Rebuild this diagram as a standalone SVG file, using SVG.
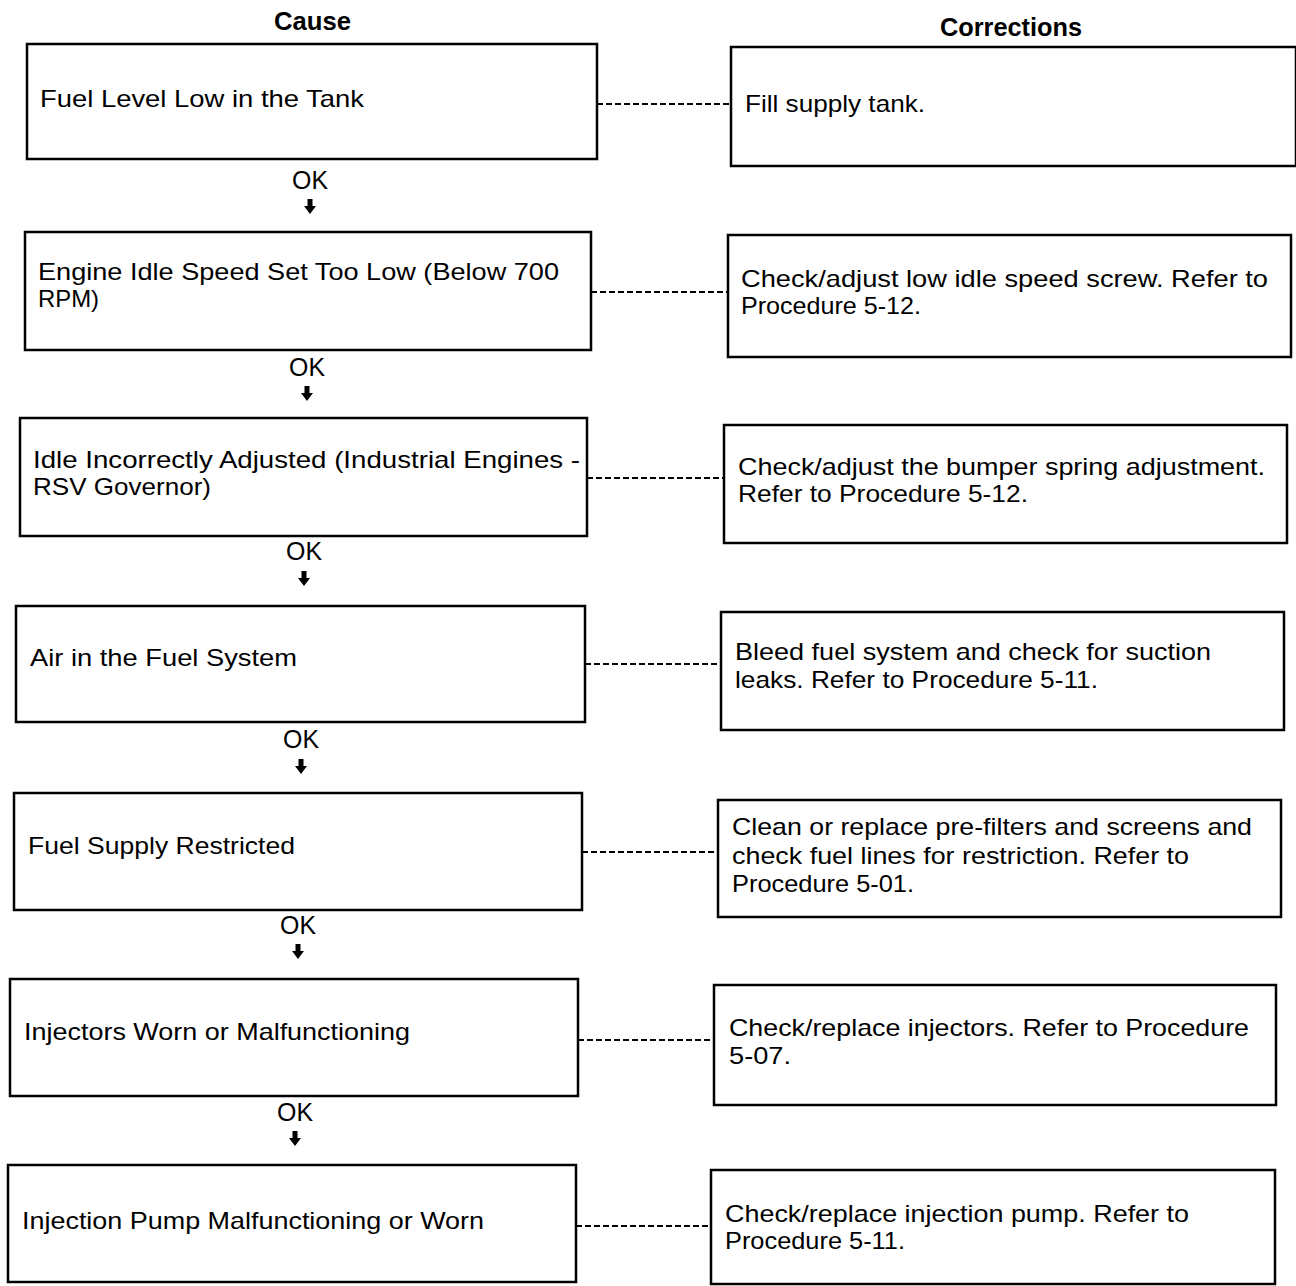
<svg xmlns="http://www.w3.org/2000/svg" width="1296" height="1286" viewBox="0 0 1296 1286">
<style>
.box{fill:#fff;stroke:#000;stroke-width:2.5}
.t{font-family:"Liberation Sans",Arial,sans-serif;font-size:24px;fill:#000}
.h{font-family:"Liberation Sans",Arial,sans-serif;font-size:25px;font-weight:bold;fill:#000}
.ok{font-family:"Liberation Sans",Arial,sans-serif;font-size:25px;fill:#000}
.dash{stroke:#000;stroke-width:2;stroke-dasharray:6 3;fill:none}
.arr{fill:#000}
</style>
<defs>
<path id="ar" d="M-2.5,-8 L2.5,-8 L2.5,-1 L6,-1 L0,7 L-6,-1 L-2.5,-1 Z"/>
</defs>
<rect width="1296" height="1286" fill="#fff"/>
<text class="h" x="274" y="30" textLength="77" lengthAdjust="spacingAndGlyphs">Cause</text>
<text class="h" x="940" y="36" textLength="142" lengthAdjust="spacingAndGlyphs">Corrections</text>

<g id="connectors">
<line class="dash" x1="597" y1="104" x2="731" y2="104"/>
<line class="dash" x1="591" y1="292" x2="728" y2="292"/>
<line class="dash" x1="587" y1="478" x2="724" y2="478"/>
<line class="dash" x1="585" y1="664" x2="721" y2="664"/>
<line class="dash" x1="582" y1="852" x2="718" y2="852"/>
<line class="dash" x1="578" y1="1040" x2="714" y2="1040"/>
<line class="dash" x1="576" y1="1226" x2="711" y2="1226"/>
<g class="arr">
<use href="#ar" x="310" y="207"/>
<use href="#ar" x="307" y="394"/>
<use href="#ar" x="304" y="579"/>
<use href="#ar" x="301" y="767"/>
<use href="#ar" x="298" y="952"/>
<use href="#ar" x="295" y="1139"/>
</g>
<text class="ok" x="292" y="189" textLength="36" lengthAdjust="spacingAndGlyphs">OK</text>
<text class="ok" x="289" y="376" textLength="36" lengthAdjust="spacingAndGlyphs">OK</text>
<text class="ok" x="286" y="560" textLength="36" lengthAdjust="spacingAndGlyphs">OK</text>
<text class="ok" x="283" y="748" textLength="36" lengthAdjust="spacingAndGlyphs">OK</text>
<text class="ok" x="280" y="934" textLength="36" lengthAdjust="spacingAndGlyphs">OK</text>
<text class="ok" x="277" y="1121" textLength="36" lengthAdjust="spacingAndGlyphs">OK</text>
</g>

<g id="cause1"><rect class="box" x="27" y="44" width="570" height="115"/>
<text class="t" x="40" y="107" textLength="324" lengthAdjust="spacingAndGlyphs">Fuel Level Low in the Tank</text></g>
<g id="fix1"><rect class="box" x="731" y="47" width="565" height="119"/>
<text class="t" x="745" y="112" textLength="180" lengthAdjust="spacingAndGlyphs">Fill supply tank.</text></g>

<g id="cause2"><rect class="box" x="25" y="232" width="566" height="118"/>
<text class="t" x="38" y="280" textLength="521" lengthAdjust="spacingAndGlyphs">Engine Idle Speed Set Too Low (Below 700</text>
<text class="t" x="38" y="307" textLength="61" lengthAdjust="spacingAndGlyphs">RPM)</text></g>
<g id="fix2"><rect class="box" x="728" y="235" width="563" height="122"/>
<text class="t" x="741" y="287" textLength="527" lengthAdjust="spacingAndGlyphs">Check/adjust low idle speed screw. Refer to</text>
<text class="t" x="741" y="314" textLength="180" lengthAdjust="spacingAndGlyphs">Procedure 5-12.</text></g>

<g id="cause3"><rect class="box" x="20" y="418" width="567" height="118"/>
<text class="t" x="33" y="468" textLength="547" lengthAdjust="spacingAndGlyphs">Idle Incorrectly Adjusted (Industrial Engines -</text>
<text class="t" x="33" y="495" textLength="178" lengthAdjust="spacingAndGlyphs">RSV Governor)</text></g>
<g id="fix3"><rect class="box" x="724" y="425" width="563" height="118"/>
<text class="t" x="738" y="475" textLength="527" lengthAdjust="spacingAndGlyphs">Check/adjust the bumper spring adjustment.</text>
<text class="t" x="738" y="502" textLength="290" lengthAdjust="spacingAndGlyphs">Refer to Procedure 5-12.</text></g>

<g id="cause4"><rect class="box" x="16" y="606" width="569" height="116"/>
<text class="t" x="30" y="666" textLength="267" lengthAdjust="spacingAndGlyphs">Air in the Fuel System</text></g>
<g id="fix4"><rect class="box" x="721" y="612" width="563" height="118"/>
<text class="t" x="735" y="660" textLength="476" lengthAdjust="spacingAndGlyphs">Bleed fuel system and check for suction</text>
<text class="t" x="735" y="688" textLength="363" lengthAdjust="spacingAndGlyphs">leaks. Refer to Procedure 5-11.</text></g>

<g id="cause5"><rect class="box" x="14" y="793" width="568" height="117"/>
<text class="t" x="28" y="854" textLength="267" lengthAdjust="spacingAndGlyphs">Fuel Supply Restricted</text></g>
<g id="fix5"><rect class="box" x="718" y="800" width="563" height="117"/>
<text class="t" x="732" y="835" textLength="520" lengthAdjust="spacingAndGlyphs">Clean or replace pre-filters and screens and</text>
<text class="t" x="732" y="864" textLength="457" lengthAdjust="spacingAndGlyphs">check fuel lines for restriction. Refer to</text>
<text class="t" x="732" y="892" textLength="182" lengthAdjust="spacingAndGlyphs">Procedure 5-01.</text></g>

<g id="cause6"><rect class="box" x="10" y="979" width="568" height="117"/>
<text class="t" x="24" y="1040" textLength="386" lengthAdjust="spacingAndGlyphs">Injectors Worn or Malfunctioning</text></g>
<g id="fix6"><rect class="box" x="714" y="985" width="562" height="120"/>
<text class="t" x="729" y="1036" textLength="520" lengthAdjust="spacingAndGlyphs">Check/replace injectors. Refer to Procedure</text>
<text class="t" x="729" y="1064" textLength="62" lengthAdjust="spacingAndGlyphs">5-07.</text></g>

<g id="cause7"><rect class="box" x="8" y="1165" width="568" height="117"/>
<text class="t" x="22" y="1229" textLength="462" lengthAdjust="spacingAndGlyphs">Injection Pump Malfunctioning or Worn</text></g>
<g id="fix7"><rect class="box" x="711" y="1170" width="564" height="114"/>
<text class="t" x="725" y="1222" textLength="464" lengthAdjust="spacingAndGlyphs">Check/replace injection pump. Refer to</text>
<text class="t" x="725" y="1249" textLength="180" lengthAdjust="spacingAndGlyphs">Procedure 5-11.</text></g>
</svg>
